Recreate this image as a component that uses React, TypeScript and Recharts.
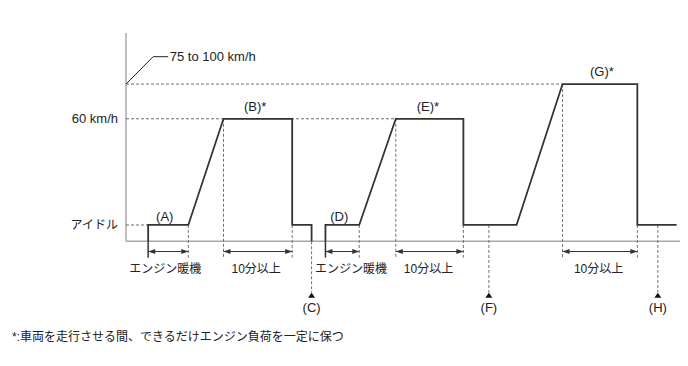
import React from "react";
import { ComposedChart, Line, Scatter, XAxis, YAxis, ReferenceLine } from "recharts";

// speed levels (km/h, schematic)
const IDLE = 8;
const MID = 60;
const HIGH = 77;

const yTicks = [IDLE, MID];
const yTickLabels: Record<number, string> = { [IDLE]: "アイドル", [MID]: "60 km/h" };

// speed trace, time in arbitrary units 0..100
const run1 = [
  { t: 4, v: 0 },
  { t: 4, v: IDLE },
  { t: 11.25, v: IDLE },
  { t: 17.6, v: MID },
  { t: 30, v: MID },
  { t: 30, v: IDLE },
  { t: 33.5, v: IDLE },
  { t: 33.5, v: 0 },
];
const run2 = [
  { t: 36, v: 0 },
  { t: 36, v: IDLE },
  { t: 42.1, v: IDLE },
  { t: 48.7, v: MID },
  { t: 60.9, v: MID },
  { t: 60.9, v: IDLE },
  { t: 70.5, v: IDLE },
  { t: 78.8, v: HIGH },
  { t: 92.3, v: HIGH },
  { t: 92.3, v: IDLE },
  { t: 99.4, v: IDLE },
];

const warmups = [
  [4, 11.25],
  [36, 42.1],
];
const holds = [
  [17.6, 30],
  [48.7, 60.9],
  [78.8, 92.3],
];
const dropGuides = [
  { t: 11.25, top: IDLE },
  { t: 17.6, top: MID },
  { t: 30, top: IDLE },
  { t: 42.1, top: IDLE },
  { t: 48.7, top: MID },
  { t: 60.9, top: IDLE },
  { t: 78.8, top: HIGH },
  { t: 92.3, top: IDLE },
];
const levelGuides = [
  { v: IDLE, to: 4 },
  { v: MID, to: 48.7 },
  { v: HIGH, to: 78.8 },
];
const stops = [
  { t: 33.5, from: 0, name: "(C)" },
  { t: 65.5, from: IDLE, name: "(F)" },
  { t: 96, from: IDLE, name: "(H)" },
];
const phaseLabels = [
  { t: 7, v: 12, text: "(A)" },
  { t: 23.3, v: 66, text: "(B)*" },
  { t: 38.5, v: 12, text: "(D)" },
  { t: 54.5, v: 66, text: "(E)*" },
  { t: 85.9, v: 83, text: "(G)*" },
];
const spanTexts = ["エンジン暖機", "10分以上"];
const footnote = "*:車両を走行させる間、できるだけエンジン負荷を一定に保つ";

const DIM_Y = -5;
const EXT_Y = -8;
const DIM_TEXT_Y = -13.8;
const MARK_Y = -25.2;
const MARK_TEXT_Y = -32.4;

const FONT = '"Liberation Sans", Arial, "Noto Sans CJK JP", sans-serif';
const INK = "#333";
const GUIDE = "#6f6f6f";

const spans = [
  ...warmups.map(([a, b]) => ({ a, b, text: spanTexts[0] })),
  ...holds.map(([a, b]) => ({ a, b, text: spanTexts[1] })),
];
const arrowPts = spans.flatMap((s) => [
  { t: s.a, v: DIM_Y, dir: -1 },
  { t: s.b, v: DIM_Y, dir: 1 },
]);
const spanLabelPts = [
  { t: 7.1, v: DIM_TEXT_Y, text: spanTexts[0] },
  { t: 23.5, v: DIM_TEXT_Y, text: spanTexts[1] },
  { t: 40.6, v: DIM_TEXT_Y, text: spanTexts[0] },
  { t: 54.6, v: DIM_TEXT_Y, text: spanTexts[1] },
  { t: 85.3, v: DIM_TEXT_Y, text: spanTexts[1] },
];
const markPts = stops.map((s) => ({ t: s.t, v: MARK_Y }));
const markLabelPts = stops.map((s) => ({ t: s.t, v: MARK_TEXT_Y, text: s.name }));
const rangeLabelPts = [{ t: 7.9, v: 90.4, text: "75 to 100 km/h" }];

const TextShape = (anchor: string, size: number) => (p: any) => (
  <text
    x={p.cx}
    y={p.cy}
    textAnchor={anchor}
    dominantBaseline="central"
    fontSize={size}
    fontFamily={FONT}
    fill="#222"
  >
    {p.payload.text}
  </text>
);

const ArrowHead = (p: any) => {
  const d = p.payload.dir;
  const x = p.cx;
  const y = p.cy;
  return <polygon points={`${x},${y} ${x - d * 7},${y - 2.5} ${x - d * 7},${y + 2.5}`} fill={INK} />;
};

const Marker = (p: any) => (
  <polygon points={`${p.cx},${p.cy} ${p.cx - 3.5},${p.cy + 5} ${p.cx + 3.5},${p.cy + 5}`} fill="#111" />
);

const YTick = (p: any) => {
  const label = yTickLabels[p.payload.value] ?? "";
  return (
    <text
      x={p.x}
      y={p.y}
      textAnchor="end"
      dominantBaseline="central"
      fontSize={p.payload.value === IDLE ? 12 : 13}
      fontFamily={FONT}
      fill="#222"
    >
      {label}
    </text>
  );
};

export default function App() {
  return (
    <div style={{ position: "absolute", left: 0, top: 0, width: 688, height: 366, background: "#fff" }}>
      <ComposedChart width={688} height={366} margin={{ top: 33, right: 8, bottom: 43, left: 8 }}>
        <XAxis type="number" dataKey="t" domain={[0, 100]} hide />
        <YAxis
          type="number"
          dataKey="v"
          domain={[-40, 102]}
          ticks={yTicks}
          interval={0}
          width={118}
          axisLine={false}
          tickLine={false}
          tick={YTick}
        />

        {/* axes */}
        <ReferenceLine segment={[{ x: 0, y: 0 }, { x: 0, y: 102 }]} stroke="#a8a8a8" strokeWidth={1.5} />
        <ReferenceLine segment={[{ x: 0, y: 0 }, { x: 100, y: 0 }]} stroke="#a8a8a8" strokeWidth={1.5} />

        {/* dashed level guides */}
        {levelGuides.map((g, i) => (
          <ReferenceLine
            key={`lg${i}`}
            segment={[{ x: 0, y: g.v }, { x: g.to, y: g.v }]}
            stroke={GUIDE}
            strokeDasharray="3 2"
          />
        ))}
        {dropGuides.map((g, i) => (
          <ReferenceLine
            key={`dg${i}`}
            segment={[{ x: g.t, y: g.top }, { x: g.t, y: EXT_Y }]}
            stroke={GUIDE}
            strokeDasharray="3 2"
          />
        ))}
        {warmups.map(([a], i) => (
          <ReferenceLine key={`ext${i}`} segment={[{ x: a, y: 0 }, { x: a, y: EXT_Y }]} stroke={INK} strokeWidth={1.5} />
        ))}
        {stops.map((s, i) => (
          <ReferenceLine
            key={`st${i}`}
            segment={[{ x: s.t, y: s.from }, { x: s.t, y: MARK_Y }]}
            stroke={GUIDE}
            strokeDasharray="3 2"
          />
        ))}

        {/* dimension lines */}
        {spans.map((s, i) => (
          <ReferenceLine key={`sp${i}`} segment={[{ x: s.a, y: DIM_Y }, { x: s.b, y: DIM_Y }]} stroke={INK} />
        ))}

        {/* 75 to 100 km/h leader */}
        <ReferenceLine segment={[{ x: 0, y: HIGH }, { x: 4.9, y: 90.4 }]} stroke="#222" />
        <ReferenceLine segment={[{ x: 4.9, y: 90.4 }, { x: 7.6, y: 90.4 }]} stroke="#222" />

        <Line data={run1} dataKey="v" type="linear" stroke={INK} strokeWidth={1.8} dot={false} isAnimationActive={false} />
        <Line data={run2} dataKey="v" type="linear" stroke={INK} strokeWidth={1.8} dot={false} isAnimationActive={false} />

        <Scatter data={arrowPts} shape={ArrowHead} isAnimationActive={false} />
        <Scatter data={markPts} shape={Marker} isAnimationActive={false} />
        <Scatter data={phaseLabels} shape={TextShape("middle", 13)} isAnimationActive={false} />
        <Scatter data={spanLabelPts} shape={TextShape("middle", 12)} isAnimationActive={false} />
        <Scatter data={markLabelPts} shape={TextShape("middle", 13)} isAnimationActive={false} />
        <Scatter data={rangeLabelPts} shape={TextShape("start", 13)} isAnimationActive={false} />
      </ComposedChart>
      <div
        style={{
          position: "absolute",
          left: 12,
          top: 329,
          fontSize: 12,
          lineHeight: "16px",
          fontFamily: FONT,
          color: "#222",
          whiteSpace: "nowrap",
        }}
      >
        {footnote}
      </div>
    </div>
  );
}
